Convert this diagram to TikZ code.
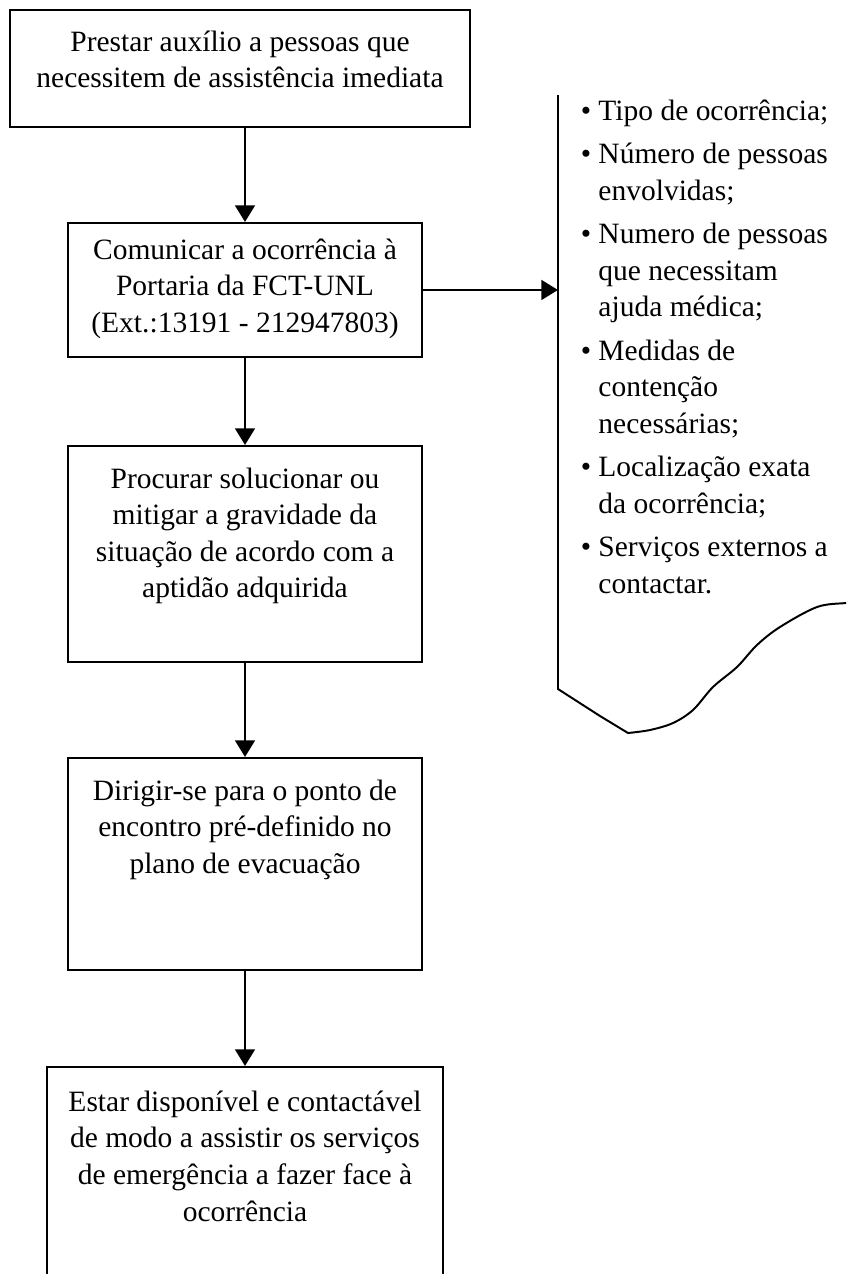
\documentclass[tikz,border=0pt]{standalone}
\usepackage{fontspec}
\setmainfont{Liberation Serif}
\usetikzlibrary{arrows.meta}

\newcommand{\steptext}[4]{\parbox[c][#1][t]{#2}{\centering\fontsize{12pt}{14.85pt}\selectfont\rule{0pt}{#3}#4}}
\newcommand{\docitem}{\leavevmode\llap{\textbullet\hspace{3pt}}}

\begin{document}
\begin{tikzpicture}[
  x=0.4068pt, y=-0.4068pt,
  stepbox/.style={draw, line width=0.8pt, inner sep=0pt, anchor=north},
  flowarrow/.style={line width=1.2pt, -{Triangle[length=6.8pt,width=8pt]}},
  docline/.style={line width=0.8pt}
]

\clip (0,0) rectangle (846,1274);

\node [stepbox, minimum width=187.1pt] (b1) at (240,9)
  {\steptext{47.6pt}{175.7pt}{16.7pt}{Prestar auxílio a pessoas que\\necessitem de assistência imediata}};
\node [stepbox, minimum width=144pt] (b2) at (245,222)
  {\steptext{54.5pt}{132.6pt}{14.8pt}{Comunicar a ocorrência à\\Portaria da FCT-UNL\\(Ext.:13191 - 212947803)}};
\node [stepbox, minimum width=144pt] (b3) at (245,445)
  {\steptext{87.9pt}{132.6pt}{17.1pt}{Procurar solucionar ou\\mitigar a gravidade da\\situação de acordo com a\\aptidão adquirida}};
\node [stepbox, minimum width=144pt] (b4) at (245,757)
  {\steptext{86.2pt}{132.6pt}{17.1pt}{Dirigir-se para o ponto de\\encontro pré-definido no\\plano de evacuação}};
\node [stepbox, minimum width=161.1pt] (b5) at (245,1066)
  {\steptext{95.2pt}{149.7pt}{18.1pt}{Estar disponível e contactável\\de modo a assistir os serviços\\de emergência a fazer face à\\ocorrência}};

\draw [docline] (558,95) -- (558,689) -- (600,716)
  -- plot [smooth, tension=0.55] coordinates {(628,733) (650,730) (673,723) (693,710)
  (713,687) (737,667) (757,645) (780,627) (817,607) (846,603) (860,602)};
\coordinate (docleft) at (558,287);

\node [anchor=base west, inner sep=0pt] (doctext) at (598,120)
  {\parbox[t]{110pt}{\raggedright\fontsize{12pt}{14.85pt}\selectfont
  \docitem Tipo de ocorrência;\\[2.85pt]
  \docitem Número de pessoas\\envolvidas;\\[2.85pt]
  \docitem Numero de pessoas\\que necessitam\\ajuda médica;\\[2.85pt]
  \docitem Medidas de\\contenção\\necessárias;\\[2.85pt]
  \docitem Localização exata\\da ocorrência;\\[2.85pt]
  \docitem Serviços externos a\\contactar.}};

\draw [flowarrow] (b2.north |- b1.south) -- (b2.north);
\draw [flowarrow] (b2.south) -- (b3.north);
\draw [flowarrow] (b3.south) -- (b4.north);
\draw [flowarrow] (b4.south) -- (b5.north);
\draw [flowarrow] (b2.east) -- (b2.east -| docleft);

\end{tikzpicture}
\end{document}
